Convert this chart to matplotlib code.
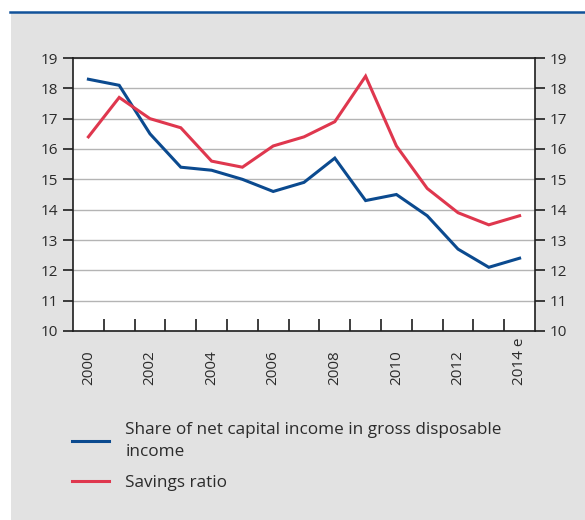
import numpy as np
import matplotlib
matplotlib.use("Agg")
import matplotlib.pyplot as plt
from matplotlib.lines import Line2D
from matplotlib.patches import Rectangle

years = ["2000", "2001", "2002", "2003", "2004", "2005", "2006", "2007",
         "2008", "2009", "2010", "2011", "2012", "2013", "2014 e"]
capital_income_share = [18.3, 18.1, 16.5, 15.4, 15.3, 15.0, 14.6, 14.9,
                        15.7, 14.3, 14.5, 13.8, 12.7, 12.1, 12.4]
savings_ratio = [16.4, 17.7, 17.0, 16.7, 15.6, 15.4, 16.1, 16.4,
                 16.9, 18.4, 16.1, 14.7, 13.9, 13.5, 13.8]
y_ticks = list(range(10, 20))

blue = "#0b4a8f"
red = "#df374e"
text_col = "#2b2b2b"

plt.rcParams["font.family"] = ["Open Sans", "DejaVu Sans"]

fig = plt.figure(figsize=(5.85, 5.2), dpi=100, facecolor="white")

# grey panel with blue rule on top
fig.add_artist(Rectangle((11 / 585, 0), 1, 1 - 13 / 520, transform=fig.transFigure,
                         facecolor="#e2e2e2", edgecolor="none", zorder=0))
fig.add_artist(Line2D([10 / 585, 1], [1 - 12 / 520, 1 - 12 / 520],
                      transform=fig.transFigure, color="#11529a", lw=1.8))

ax = fig.add_axes([73 / 585, 1 - 331 / 520, 462 / 585, 273 / 520])
ax.set_facecolor("white")

x = np.arange(len(years))
ax.plot(x, capital_income_share, color=blue, lw=2.2, solid_joinstyle="miter",
        label="Share of net capital income in gross disposable\nincome")
ax.plot(x, savings_ratio, color=red, lw=2.2, solid_joinstyle="miter",
        label="Savings ratio")

ax.set_xlim(-0.5, len(years) - 0.5)
ax.set_ylim(10, 19)
ax.set_yticks(y_ticks)
ax.yaxis.grid(True, color="#b4b4b4", lw=1.0)
ax.set_axisbelow(True)

for side in ["left", "right", "bottom", "top"]:
    ax.spines[side].set_color("#1e1e1e")
    ax.spines[side].set_linewidth(1.2)

ax.tick_params(axis="y", which="both", left=True, right=True, labelleft=True,
               labelright=True, direction="out", length=7.5, width=1.2,
               color="#1e1e1e", labelsize=11, labelcolor=text_col, pad=3)

# year boundaries as inward ticks, labels every second year
ax.set_xticks([])
ax.set_xticks(np.arange(0.5, len(years) - 1, 1), minor=True)
ax.tick_params(axis="x", which="minor", direction="in", length=8.5, width=1.2,
               color="#1e1e1e")
for i in range(0, len(years), 2):
    ax.text(i, -0.198, years[i], transform=ax.get_xaxis_transform(),
            rotation=90, ha="center", va="bottom", fontsize=11, color=text_col)

leg = ax.legend(loc="upper left", bbox_to_anchor=(57 / 585, 1 - 407 / 520),
                bbox_transform=fig.transFigure, frameon=False, fontsize=12.3,
                handlelength=2.15, handletextpad=0.95, labelspacing=0.9,
                labelcolor=text_col)
leg.get_texts()[0].set_linespacing(1.45)

fig.savefig("out.png", dpi=100, facecolor="white")
